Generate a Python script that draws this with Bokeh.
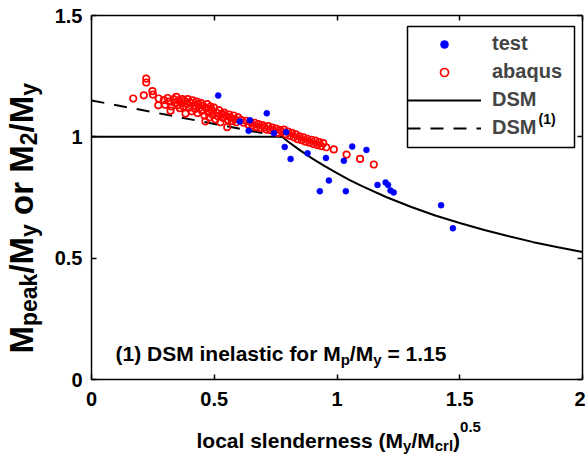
import math
from bokeh.plotting import figure
from bokeh.models import (Range1d, LinearAxis, Label, Legend, LegendItem, FixedTicker,
                          BoxAnnotation)
from bokeh.embed import file_html
from bokeh.resources import INLINE

# ---------------- data ----------------
test_x = [0.516, 0.604, 0.640, 0.645, 0.714, 0.743, 0.787, 0.793, 0.811, 0.880,
          0.930, 0.955, 0.967, 1.028, 1.036, 1.062, 1.120, 1.165, 1.198, 1.208,
          1.218, 1.231, 1.424, 1.472]
test_y = [1.170, 1.063, 1.025, 1.068, 1.097, 1.015, 0.958, 1.019, 0.909, 0.932,
          0.776, 0.913, 0.820, 0.901, 0.776, 0.960, 0.946, 0.802, 0.812, 0.802,
          0.779, 0.771, 0.718, 0.623]

abaqus_x = [0.170, 0.213, 0.223, 0.223, 0.248, 0.250, 0.272, 0.274, 0.295, 0.300,
            0.310, 0.318, 0.322, 0.326, 0.335, 0.340, 0.345, 0.350, 0.355, 0.360,
            0.365, 0.370, 0.375, 0.380, 0.383, 0.388, 0.392, 0.398, 0.402, 0.408,
            0.412, 0.418, 0.422, 0.428, 0.432, 0.436, 0.440, 0.446, 0.450, 0.455,
            0.460, 0.464, 0.468, 0.472, 0.476, 0.480, 0.485, 0.490, 0.494, 0.500,
            0.505, 0.510, 0.515, 0.520, 0.525, 0.530, 0.536, 0.540, 0.546, 0.553,
            0.556, 0.560, 0.566, 0.572, 0.578, 0.584, 0.590, 0.598, 0.610, 0.620,
            0.630, 0.640, 0.648, 0.656, 0.664, 0.672, 0.680, 0.688, 0.696, 0.704,
            0.712, 0.720, 0.728, 0.736, 0.744, 0.752, 0.760, 0.768, 0.776, 0.784,
            0.792, 0.800, 0.808, 0.816, 0.824, 0.832, 0.840, 0.848, 0.856, 0.864,
            0.872, 0.880, 0.888, 0.896, 0.904, 0.912, 0.920, 0.928, 0.936, 0.944,
            0.956, 0.987, 1.039, 1.094, 1.150]
abaqus_y = [1.158, 1.171, 1.240, 1.224, 1.188, 1.174, 1.130, 1.158, 1.151, 1.132,
            1.160, 1.145, 1.108, 1.125, 1.155, 1.140, 1.165, 1.130, 1.150, 1.118,
            1.140, 1.155, 1.125, 1.148, 1.096, 1.135, 1.155, 1.120, 1.142, 1.105,
            1.150, 1.130, 1.115, 1.145, 1.098, 1.135, 1.120, 1.140, 1.108, 1.128,
            1.088, 1.064, 1.118, 1.135, 1.100, 1.080, 1.125, 1.110, 1.090, 1.120,
            1.072, 1.100, 1.085, 1.110, 1.060, 1.095, 1.078, 1.100, 1.088, 1.040,
            1.070, 1.092, 1.080, 1.065, 1.088, 1.072, 1.060, 1.080, 1.070, 1.058,
            1.066, 1.050, 1.062, 1.046, 1.058, 1.040, 1.052, 1.036, 1.048, 1.040,
            1.030, 1.044, 1.028, 1.038, 1.024, 1.034, 1.016, 1.028, 1.020, 1.030,
            1.010, 1.022, 1.004, 1.016, 0.998, 1.010, 0.990, 1.002, 0.986, 0.998,
            0.980, 0.992, 0.976, 0.988, 0.970, 0.984, 0.966, 0.978, 0.962, 0.974,
            0.957, 0.948, 0.927, 0.909, 0.886]

dsm_x = [0.0, 0.776, 0.80, 0.85, 0.90, 0.95, 1.00, 1.05, 1.10, 1.20, 1.30, 1.40,
         1.50, 1.60, 1.70, 1.80, 1.90, 2.00]
dsm_y = [1.000, 1.000, 0.981, 0.944, 0.910, 0.879, 0.850, 0.823, 0.798, 0.752,
         0.712, 0.676, 0.645, 0.616, 0.590, 0.566, 0.545, 0.525]

dsm1_x = [0.0, 0.776]
dsm1_y = [1.15, 1.00]

x_ticks = [0, 0.5, 1, 1.5, 2]
x_tick_labels = ["0", "0.5", "1", "1.5", "2"]
y_ticks = [0, 0.5, 1, 1.5]
y_tick_labels = ["0", "0.5", "1", "1.5"]
x_lim = (0, 2)
y_lim = (0, 1.5)

# ---------------- layout helpers ----------------
FONT = "Liberation Sans"
W = {' ': 278, '(': 333, ')': 333, '/': 278, '.': 278, '=': 584, 'M': 833, 'D': 722,
     'S': 667, 'a': 556, 'b': 611, 'c': 556, 'd': 611, 'e': 556, 'f': 333, 'i': 278,
     'k': 556, 'l': 278, 'n': 611, 'o': 611, 'p': 611, 'q': 611, 'r': 389, 's': 556,
     't': 333, 'u': 611, 'y': 556}


def text_w(s, size):
    return sum(W.get(ch, 556) for ch in s) * size / 1000.0


# The frame fills the whole canvas; the axes box sits at these pixels.
CW, CH = 585, 455
BL, BT, BW, BH = 91.0, 15.0, 491.0, 364.0
SX = BW / (x_lim[1] - x_lim[0])
SY = BH / (y_lim[1] - y_lim[0])
BASE_FIX = 7  # labels render this many px below the requested baseline


def dx(px):
    return x_lim[0] + (px - BL) / SX


def dy(py):
    return y_lim[0] + (BT + BH - py) / SY


p = figure(width=CW, height=CH,
           x_range=Range1d(dx(0), dx(CW)), y_range=Range1d(dy(CH), dy(0)),
           output_backend="svg", toolbar_location=None, min_border=0,
           min_border_left=0, min_border_right=0, min_border_top=0, min_border_bottom=0)
p.xgrid.visible = False
p.ygrid.visible = False
p.outline_line_color = None
p.background_fill_color = "white"
p.border_fill_color = "white"


def style_axis(ax, ticks, labels, show_labels, standoff, loc, bounds):
    ax.ticker = FixedTicker(ticks=ticks)
    ax.major_label_overrides = {float(t): l for t, l in zip(ticks, labels)}
    ax.fixed_location = loc
    ax.bounds = bounds
    ax.major_tick_in = 5
    ax.major_tick_out = 0
    ax.minor_tick_in = 0
    ax.minor_tick_out = 0
    ax.axis_line_color = "black"
    ax.axis_line_width = 1.5
    ax.major_tick_line_color = "black"
    ax.major_tick_line_width = 1.5
    ax.major_label_text_font = FONT
    ax.major_label_text_font_style = "bold"
    if show_labels:
        ax.major_label_text_color = "black"
        ax.major_label_text_font_size = "20px"
        ax.major_label_standoff = standoff
    else:
        ax.major_label_text_color = None
        ax.major_label_text_font_size = "1px"
        ax.major_label_standoff = 0


style_axis(p.xaxis[0], x_ticks, x_tick_labels, True, 12, y_lim[0], x_lim)
style_axis(p.yaxis[0], y_ticks, y_tick_labels, True, 9, x_lim[0], y_lim)
top_ax = LinearAxis()
right_ax = LinearAxis()
style_axis(top_ax, x_ticks, x_tick_labels, False, 0, y_lim[1], x_lim)
style_axis(right_ax, y_ticks, y_tick_labels, False, 0, x_lim[1], y_lim)
p.add_layout(top_ax, "above")
p.add_layout(right_ax, "right")

# legend frame (white box with black border) behind the legend entries
p.add_layout(BoxAnnotation(left=dx(407), right=dx(574), top=dy(26), bottom=dy(147),
                           fill_color="white", fill_alpha=1.0, line_color="black",
                           line_width=1.5, line_alpha=1.0, level="underlay"))

# ---------------- glyphs ----------------
r_dsm = p.line(dsm_x, dsm_y, line_color="black", line_width=2)
r_dsm1 = p.line(dsm1_x, dsm1_y, line_color="black", line_width=2, line_dash="13 10")
r_abq = p.scatter(abaqus_x, abaqus_y, marker="circle", size=6.5, fill_color=None,
                  line_color="#ff0000", line_width=1.7)
r_test = p.scatter(test_x, test_y, marker="circle", size=6, fill_color="#0000ff",
                   line_color="#0000ff", line_width=0.5)

legend = Legend(items=[LegendItem(label="test", renderers=[r_test]),
                       LegendItem(label="abaqus", renderers=[r_abq]),
                       LegendItem(label="DSM", renderers=[r_dsm]),
                       LegendItem(label="DSM", renderers=[r_dsm1])],
                location=(407, CH - 139))
legend.border_line_color = None
legend.background_fill_alpha = 0.0
legend.label_text_font = FONT
legend.label_text_font_style = "bold"
legend.label_text_font_size = "20px"
legend.glyph_width = 74
legend.glyph_height = 20
legend.label_height = 20
legend.label_standoff = 11
legend.padding = 10
legend.spacing = 5
legend.margin = 0
p.add_layout(legend)


# ---------------- texts ----------------
def add_label(px, py, txt, size, angle=0.0):
    p.add_layout(Label(x=dx(px), y=dy(py), text=txt, text_font=FONT,
                       text_font_style="bold", text_font_size=f"{size}px",
                       angle=angle, text_align="left",
                       text_baseline="alphabetic", text_color="black"))


def place_h(pieces, px0, base):
    x = px0
    for txt, size, shift in pieces:
        lead = len(txt) - len(txt.lstrip(" "))
        x += text_w(" " * lead, size)
        add_label(x, base + shift - BASE_FIX, txt.strip(" "), size)
        x += text_w(txt.lstrip(" "), size)


def place_v(pieces, bx, py0):
    y = py0
    for txt, size, shift in pieces:
        lead = len(txt) - len(txt.lstrip(" "))
        y -= text_w(" " * lead, size)
        add_label(bx + shift - BASE_FIX, y, txt.strip(" "), size, angle=math.pi / 2)
        y -= text_w(txt.lstrip(" "), size)


# legend superscript for DSM(1)
place_h([("(1)", 14, 0)], 538, 125)

# annotation
place_h([("(1) DSM inelastic for", 21, 0), (" M", 21, 0), ("p", 15, 6), ("/M", 21, 0),
         ("y", 15, 6), (" = 1.15", 21, 0)], 115, 360)

# x axis label
place_h([("local slenderness (", 21, 0), ("M", 21, 0), ("y", 15, 5), ("/M", 21, 0),
         ("crl", 15, 5), (")", 21, 0), ("0.5", 15, -14)], 196, 447)

# y axis label
place_v([("M", 33, 0), ("peak", 23, 7), ("/M", 33, 0), ("y", 23, 7), (" or M", 33, 0),
         ("2", 23, 7), ("/M", 33, 0), ("y", 23, 7)], 28, 353)

open("out.html", "w").write(file_html(p, INLINE))
